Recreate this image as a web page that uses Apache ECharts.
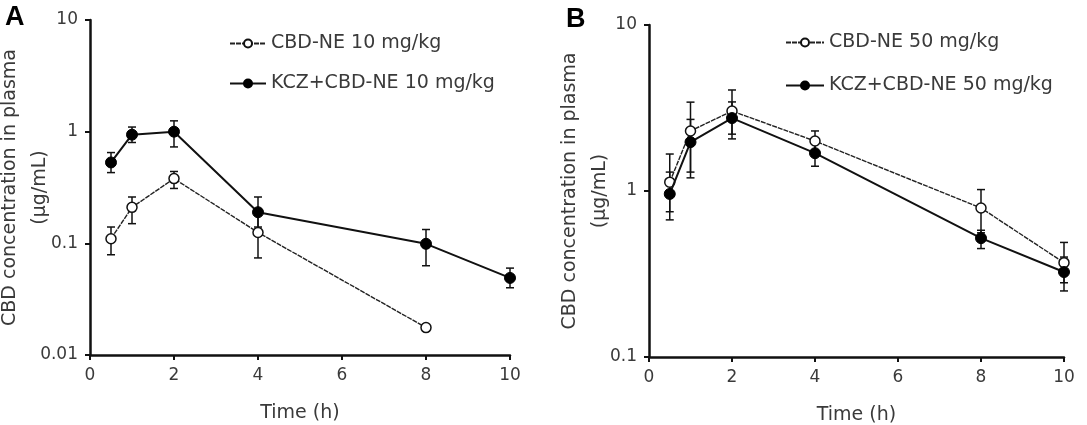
<!DOCTYPE html>
<html>
<head>
<meta charset="utf-8">
<script src="https://cdn.jsdelivr.net/npm/echarts@6/dist/echarts.min.js"></script>
<style>
  html, body { margin: 0; padding: 0; background: #fff; }
  #chart { width: 1087px; height: 425px; }
</style>
</head>
<body>
<div id="chart"></div>
<script>
// sampling times (h)
const times = [0.5, 1, 2, 4, 8, 10];

// panel A, 10 mg/kg
const cbd10 = [0.11, 0.21, 0.38, 0.125, 0.0176, null];
const cbd10Low = [0.079, 0.15, 0.31, 0.074, null, null];
const cbd10High = [0.14, 0.26, 0.44, 0.18, null, null];
const kcz10 = [0.53, 0.94, 1.0, 0.19, 0.099, 0.049];
const kcz10Low = [0.43, 0.8, 0.73, 0.14, 0.063, 0.04];
const kcz10High = [0.65, 1.1, 1.25, 0.26, 0.133, 0.06];

// panel B, 50 mg/kg
const cbd50 = [1.13, 2.3, 3.03, 2.0, 0.79, 0.37];
const cbd50Low = [0.75, 1.3, 2.2, 1.75, 0.56, 0.28];
const cbd50High = [1.67, 3.43, 4.06, 2.3, 1.02, 0.49];
const kcz50 = [0.96, 1.97, 2.75, 1.69, 0.52, 0.325];
const kcz50Low = [0.67, 1.2, 2.06, 1.41, 0.45, 0.25];
const kcz50High = [1.3, 2.7, 3.44, 1.97, 0.58, 0.4];

const FONT = '"DejaVu Sans", Verdana, sans-serif';
const TEXT_COLOR = '#3a3a3a';

function pairs(ys) {
  let out = [];
  for (let i = 0; i < times.length; i++) {
    if (ys[i] != null) out.push([times[i], ys[i]]);
  }
  return out;
}

function errData(low, high) {
  let out = [];
  for (let i = 0; i < times.length; i++) {
    if (low[i] != null && high[i] != null) out.push([times[i], low[i], high[i]]);
  }
  return out;
}

function renderErr(params, api) {
  const lo = api.coord([api.value(0), api.value(1)]);
  const hi = api.coord([api.value(0), api.value(2)]);
  const cap = 4;
  const style = { stroke: '#111', lineWidth: 1.5 };
  return {
    type: 'group',
    children: [
      { type: 'line', shape: { x1: lo[0], y1: lo[1], x2: hi[0], y2: hi[1] }, style: style },
      { type: 'line', shape: { x1: lo[0] - cap, y1: lo[1], x2: lo[0] + cap, y2: lo[1] }, style: style },
      { type: 'line', shape: { x1: hi[0] - cap, y1: hi[1], x2: hi[0] + cap, y2: hi[1] }, style: style }
    ]
  };
}

function errSeries(idx, low, high) {
  return {
    type: 'custom', xAxisIndex: idx, yAxisIndex: idx,
    renderItem: renderErr, data: errData(low, high), z: 1, silent: true
  };
}

function lineSeries(idx, name, ys, open) {
  return {
    type: 'line', name: name, xAxisIndex: idx, yAxisIndex: idx,
    data: pairs(ys), symbol: 'circle', symbolSize: open ? 10 : 11,
    lineStyle: open ? { color: '#222', width: 1.4, type: [5, 1] } : { color: '#111', width: 2 },
    itemStyle: open ? { color: '#fff', borderColor: '#111', borderWidth: 1.5 } : { color: '#000', borderColor: '#000', borderWidth: 1 },
    z: open ? 3 : 4, animation: false
  };
}

function xAxisDef(idx) {
  return {
    type: 'value', gridIndex: idx, min: 0, max: 10, interval: 2,
    name: 'Time (h)', nameLocation: 'middle', nameGap: 49, nameMoveOverlap: false,
    nameTextStyle: { fontFamily: FONT, fontSize: 19, color: TEXT_COLOR },
    axisLine: { lineStyle: { color: '#111', width: 2.5 } },
    axisTick: { show: true, length: 5, lineStyle: { color: '#111', width: 2 } },
    axisLabel: { fontFamily: FONT, fontSize: 17, color: TEXT_COLOR, margin: 12 },
    splitLine: { show: false }
  };
}

function yAxisDef(idx, min, max, gap) {
  return {
    type: 'log', gridIndex: idx, logBase: 10, min: min, max: max,
    name: 'CBD concentration in plasma\n(µg/mL)', nameLocation: 'middle', nameGap: gap, nameMoveOverlap: false,
    nameTextStyle: { fontFamily: FONT, fontSize: 19, color: TEXT_COLOR, lineHeight: 30 },
    axisLine: { show: true, lineStyle: { color: '#111', width: 2.5 } },
    axisTick: { show: true, length: 5, lineStyle: { color: '#111', width: 2 } },
    axisLabel: { fontFamily: FONT, fontSize: 17, color: TEXT_COLOR, margin: 12, formatter: v => String(v) },
    splitLine: { show: false }, minorTick: { show: false }
  };
}

const chart = echarts.init(document.getElementById('chart'));
chart.setOption({
  animation: false,
  backgroundColor: '#fff',
  title: [
    { text: 'A', left: 0, top: -1, textStyle: { fontFamily: 'Liberation Sans', fontSize: 27, fontWeight: 'bold', color: '#000' } },
    { text: 'B', left: 561, top: 1, textStyle: { fontFamily: 'Liberation Sans', fontSize: 27, fontWeight: 'bold', color: '#000' } }
  ],
  grid: [
    { left: 90, top: 20, width: 420, bottom: 70, outerBoundsMode: 'none' },
    { left: 649, top: 25, width: 415, bottom: 68, outerBoundsMode: 'none' }
  ],
  legend: [
    {
      data: ['CBD-NE 10 mg/kg', 'KCZ+CBD-NE 10 mg/kg'], orient: 'vertical',
      left: 224, top: 29, itemWidth: 36, itemHeight: 10, itemGap: 21,
      textStyle: { fontFamily: FONT, fontSize: 19, color: TEXT_COLOR }
    },
    {
      data: ['CBD-NE 50 mg/kg', 'KCZ+CBD-NE 50 mg/kg'], orient: 'vertical',
      left: 780, top: 28, itemWidth: 38, itemHeight: 10, itemGap: 24,
      textStyle: { fontFamily: FONT, fontSize: 19, color: TEXT_COLOR }
    }
  ],
  xAxis: [xAxisDef(0), xAxisDef(1)],
  yAxis: [yAxisDef(0, 0.01, 10, 35), yAxisDef(1, 0.1, 10, 34)],
  series: [
    errSeries(0, cbd10Low, cbd10High),
    errSeries(0, kcz10Low, kcz10High),
    lineSeries(0, 'CBD-NE 10 mg/kg', cbd10, true),
    lineSeries(0, 'KCZ+CBD-NE 10 mg/kg', kcz10, false),
    errSeries(1, cbd50Low, cbd50High),
    errSeries(1, kcz50Low, kcz50High),
    lineSeries(1, 'CBD-NE 50 mg/kg', cbd50, true),
    lineSeries(1, 'KCZ+CBD-NE 50 mg/kg', kcz50, false)
  ]
});
</script>
</body>
</html>
